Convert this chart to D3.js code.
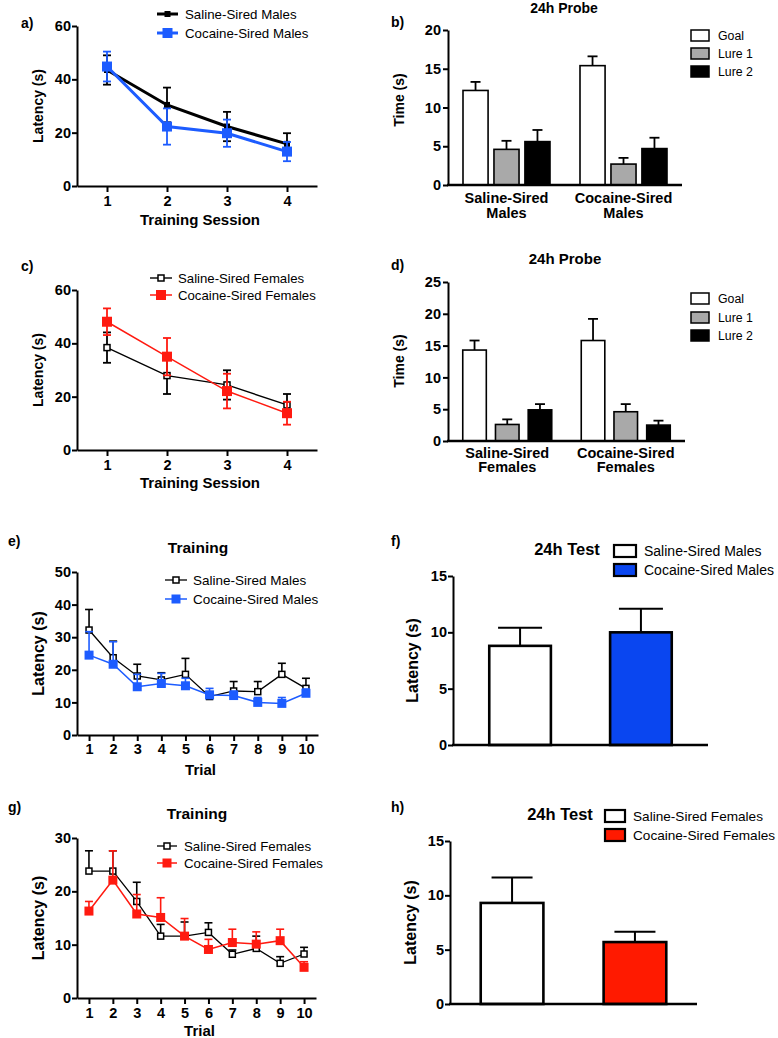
<!DOCTYPE html>
<html><head><meta charset="utf-8">
<script src="https://cdn.jsdelivr.net/npm/d3@7"></script>
<style>body{margin:0;background:#fff}svg{display:block}</style>
</head><body><svg id="c" width="778" height="1038"></svg>
<script>
// ---------- DATA ----------
const sessions = [1, 2, 3, 4];
const trials = [1, 2, 3, 4, 5, 6, 7, 8, 9, 10];

// a) males, training sessions
const aSalineMean = [43.5, 30.4, 22.3, 15.8];
const aSalineSem = [5.5, 6.5, 5.5, 4.0];
const aCocaineMean = [44.8, 22.3, 19.8, 12.9];
const aCocaineSem = [5.6, 6.8, 5.1, 3.6];
const aTicks = [0, 20, 40, 60];

// c) females, training sessions
const cSalineMean = [38.4, 27.9, 24.4, 16.9];
const cSalineSem = [5.7, 6.9, 5.5, 4.1];
const cCocaineMean = [48.1, 35.0, 22.1, 13.8];
const cCocaineSem = [5.0, 7.0, 6.5, 4.3];

// b) / d) 24h probe
const probeArms = ["Goal", "Lure 1", "Lure 2"];
const bGroups = [["Saline-Sired", "Males"], ["Cocaine-Sired", "Males"]];
const bSalineMean = [12.2, 4.6, 5.6];
const bSalineSem = [1.1, 1.1, 1.5];
const bCocaineMean = [15.4, 2.7, 4.7];
const bCocaineSem = [1.2, 0.8, 1.4];
const bTicks = [0, 5, 10, 15, 20];

const dGroups = [["Saline-Sired", "Females"], ["Cocaine-Sired", "Females"]];
const dSalineMean = [14.3, 2.6, 4.9];
const dSalineSem = [1.5, 0.8, 0.9];
const dCocaineMean = [15.8, 4.6, 2.5];
const dCocaineSem = [3.4, 1.2, 0.7];
const dTicks = [0, 5, 10, 15, 20, 25];

// e) males, trials
const eSalineMean = [32.2, 23.7, 18.1, 16.9, 18.6, 11.8, 13.5, 13.3, 18.6, 14.3];
const eSalineSem = [6.3, 5.1, 3.6, 2.2, 4.9, 1.5, 2.9, 3.1, 3.4, 3.1];
const eCocaineMean = [24.5, 21.7, 14.8, 15.8, 15.1, 12.3, 12.1, 10.0, 9.7, 12.8];
const eCocaineSem = [7.2, 6.9, 3.8, 3.1, 2.3, 2.0, 1.4, 1.5, 1.8, 1.3];
const eTicks = [0, 10, 20, 30, 40, 50];

// g) females, trials
const gSalineMean = [23.8, 23.8, 18.1, 11.6, 11.6, 12.3, 8.2, 9.3, 6.5, 8.25];
const gSalineSem = [3.8, 3.8, 3.6, 2.2, 2.65, 1.8, 0.8, 2.3, 1.25, 1.25];
const gCocaineMean = [16.3, 22.1, 15.75, 15.1, 11.6, 9.1, 10.4, 10.1, 10.75, 5.75];
const gCocaineSem = [1.8, 5.5, 3.65, 3.7, 3.3, 1.9, 2.5, 2.3, 2.15, 1.05];
const gTicks = [0, 10, 20, 30];

// f) / h) 24h test
const fGroups = ["Saline-Sired Males", "Cocaine-Sired Males"];
const fMean = [8.8, 10.0];
const fSem = [1.6, 2.1];
const hGroups = ["Saline-Sired Females", "Cocaine-Sired Females"];
const hMean = [9.3, 5.7];
const hSem = [2.35, 0.95];
const testTicks = [0, 5, 10, 15];

// ---------- DRAWING ----------
const FONT = '"Liberation Sans", Arial, Helvetica, sans-serif';
const BLUE = "#1d5cff", RED = "#ff1a10", GREY = "#a9a9a9";
const svg = d3.select("#c");
const intFmt = d3.format("d");

function txt(g, x, y, s, o = {}) {
  return g.append("text").attr("x", x).attr("y", y).text(s)
    .style("font-family", FONT).style("font-size", (o.fs || 14) + "px")
    .style("font-weight", o.bold ? "bold" : "normal")
    .attr("text-anchor", o.anchor || "start").attr("fill", "#000");
}
function styleAxis(g, fs) {
  g.selectAll("path.domain").attr("stroke", "#000").attr("stroke-width", 2);
  g.selectAll(".tick line").attr("stroke", "#000").attr("stroke-width", 2);
  g.selectAll(".tick text").attr("fill", "#000").style("font-family", FONT)
    .style("font-weight", "bold").style("font-size", fs + "px");
}
function yLabel(g, cx, cy, s, fs) {
  g.append("text").attr("transform", `translate(${cx},${cy}) rotate(-90)`)
    .attr("dy", "0.35em").attr("text-anchor", "middle").text(s)
    .style("font-family", FONT).style("font-weight", "bold").style("font-size", fs + "px");
}
function marker(g, cx, cy, s) {
  g.append("rect").attr("x", cx - s.size / 2).attr("y", cy - s.size / 2)
    .attr("width", s.size).attr("height", s.size)
    .attr("fill", s.open ? "#fff" : s.color).attr("stroke", s.color)
    .attr("stroke-width", s.open ? 1.5 : 0);
}

function lineChart(o) {
  const g = svg.append("g");
  const x = d3.scaleLinear().domain(o.xDomain).range([o.x0, o.x1]);
  const y = d3.scaleLinear().domain([0, o.yMax]).range([o.yBot, o.yTop]);
  const ya = g.append("g").attr("transform", `translate(${o.x0},0)`)
    .call(d3.axisLeft(y).tickValues(o.yTicks).tickFormat(intFmt).tickSize(5).tickPadding(1).tickSizeOuter(0));
  styleAxis(ya, o.tickFs);
  const xa = g.append("g").attr("transform", `translate(0,${o.yBot})`)
    .call(d3.axisBottom(x).tickValues(o.xTicks).tickFormat(intFmt).tickSize(6).tickPadding(o.xPad).tickSizeOuter(0));
  styleAxis(xa, o.tickFs);

  o.series.forEach(s => {
    const pts = o.xTicks.map((t, i) => ({ t, m: s.mean[i], e: s.sem[i] }));
    const eg = g.append("g").attr("stroke", s.color).attr("stroke-width", s.ew);
    pts.forEach(p => {
      const lo = s.both ? p.m - p.e : p.m;
      eg.append("line").attr("x1", x(p.t)).attr("x2", x(p.t)).attr("y1", y(lo)).attr("y2", y(p.m + p.e));
      eg.append("line").attr("x1", x(p.t) - o.cap / 2).attr("x2", x(p.t) + o.cap / 2)
        .attr("y1", y(p.m + p.e)).attr("y2", y(p.m + p.e));
      if (s.both) eg.append("line").attr("x1", x(p.t) - o.cap / 2).attr("x2", x(p.t) + o.cap / 2)
        .attr("y1", y(p.m - p.e)).attr("y2", y(p.m - p.e));
    });
    g.append("path").datum(pts).attr("fill", "none").attr("stroke", s.color).attr("stroke-width", s.lw)
      .attr("d", d3.line().x(p => x(p.t)).y(p => y(p.m)));
    pts.forEach(p => marker(g, x(p.t), y(p.m), s));
  });

  // legend
  o.series.forEach((s, i) => {
    const ly = o.leg.ys[i];
    g.append("line").attr("x1", o.leg.l1).attr("x2", o.leg.l2).attr("y1", ly).attr("y2", ly)
      .attr("stroke", s.color).attr("stroke-width", s.lw);
    marker(g, (o.leg.l1 + o.leg.l2) / 2, ly, s);
    txt(g, o.leg.tx, ly + o.leg.fs * 0.35, s.name, { fs: o.leg.fs });
  });

  yLabel(g, o.ylx, (o.yTop + o.yBot) / 2, "Latency (s)", o.ylFs);
  txt(g, (o.x0 + o.x1) / 2 + 3, o.xlY, o.xlabel, { fs: 15, bold: true, anchor: "middle" });
  if (o.title) txt(g, o.titleX, o.titleY, o.title, { fs: 15.5, bold: true, anchor: "middle" });
  txt(g, o.labX, o.labY, o.lab, { fs: 14, bold: true });
}

function probeChart(o) {
  const g = svg.append("g");
  const y = d3.scaleLinear().domain([0, o.yMax]).range([o.yBot, o.yTop]);
  const gx = d3.scalePoint().domain(d3.range(o.groups.length)).range([o.x0, o.x1]).padding(0.5);
  const bx = d3.scaleBand().domain(probeArms).range([-o.innerW / 2, o.innerW / 2]).paddingInner(o.padIn);
  const fills = ["#fff", GREY, "#000"];
  o.means.forEach((ms, gi) => {
    ms.forEach((m, ai) => {
      const a = probeArms[ai];
      const bx0 = gx(gi) + bx(a), cx = bx0 + bx.bandwidth() / 2;
      const top = y(m + o.sems[gi][ai]);
      g.append("line").attr("x1", cx).attr("x2", cx).attr("y1", y(m)).attr("y2", top)
        .attr("stroke", "#000").attr("stroke-width", 1.8);
      g.append("line").attr("x1", cx - 5).attr("x2", cx + 5).attr("y1", top).attr("y2", top)
        .attr("stroke", "#000").attr("stroke-width", 1.8);
      g.append("rect").attr("x", bx0).attr("y", y(m)).attr("width", bx.bandwidth())
        .attr("height", y(0) - y(m)).attr("fill", fills[ai]).attr("stroke", "#000").attr("stroke-width", 1.6);
    });
    o.groups[gi].forEach((line, li) =>
      txt(g, gx(gi), o.glY[li], line, { fs: 14.5, bold: true, anchor: "middle" }));
  });
  const ya = g.append("g").attr("transform", `translate(${o.x0},0)`)
    .call(d3.axisLeft(y).tickValues(o.ticks).tickSize(5).tickPadding(2).tickSizeOuter(0));
  styleAxis(ya, 14.5);
  g.append("line").attr("x1", o.x0 - 1).attr("x2", o.x1).attr("y1", o.yBot).attr("y2", o.yBot)
    .attr("stroke", "#000").attr("stroke-width", 2.5);
  probeArms.forEach((a, i) => {
    g.append("rect").attr("x", 691).attr("y", o.legY[i]).attr("width", 18).attr("height", 11)
      .attr("fill", fills[i]).attr("stroke", "#000").attr("stroke-width", 1.5);
    txt(g, 718, o.legY[i] + 10, a, { fs: 12.3 });
  });
  txt(g, o.titleX, o.titleY, "24h Probe", { fs: o.titleFs, bold: true, anchor: "middle" });
  yLabel(g, 399, o.ylCy, "Time (s)", 14);
  txt(g, 391, o.labY, o.lab, { fs: 14, bold: true });
}

function testChart(o) {
  const g = svg.append("g");
  const y = d3.scaleLinear().domain([0, 15]).range([o.yBot, o.yTop]);
  const x = d3.scaleBand().domain(o.groups).range([o.x0, o.x1]).paddingInner(o.padIn).paddingOuter(o.padOut);
  const fills = ["#fff", o.color];
  o.groups.forEach((grp, i) => {
    const cx = x(grp) + x.bandwidth() / 2, top = y(o.mean[i] + o.sem[i]);
    g.append("line").attr("x1", cx).attr("x2", cx).attr("y1", y(o.mean[i])).attr("y2", top)
      .attr("stroke", "#000").attr("stroke-width", 2);
    g.append("line").attr("x1", cx - o.cap / 2).attr("x2", cx + o.cap / 2).attr("y1", top).attr("y2", top)
      .attr("stroke", "#000").attr("stroke-width", 2);
    g.append("rect").attr("x", x(grp)).attr("y", y(o.mean[i])).attr("width", x.bandwidth())
      .attr("height", y(0) - y(o.mean[i])).attr("fill", fills[i]).attr("stroke", "#000").attr("stroke-width", 2.6);
    g.append("rect").attr("x", o.legX).attr("y", o.legY[i]).attr("width", o.boxW).attr("height", 12)
      .attr("fill", fills[i]).attr("stroke", "#000").attr("stroke-width", 2.2);
    txt(g, o.legTx, o.legY[i] + 10.5, grp, { fs: o.legFs });
  });
  const ya = g.append("g").attr("transform", `translate(${o.x0},0)`)
    .call(d3.axisLeft(y).tickValues(testTicks).tickSize(5).tickPadding(1).tickSizeOuter(0));
  styleAxis(ya, 14.5);
  g.append("line").attr("x1", o.x0 - 1).attr("x2", o.x1).attr("y1", o.yBot).attr("y2", o.yBot)
    .attr("stroke", "#000").attr("stroke-width", 2.5);
  txt(g, o.titleX, o.titleY, "24h Test", { fs: 16.5, bold: true, anchor: "middle" });
  yLabel(g, o.ylx, (o.yTop + o.yBot) / 2, "Latency (s)", 16);
  txt(g, 391, o.labY, o.lab, { fs: 14, bold: true });
}

// a)
lineChart({
  x0: 77, x1: 317, yTop: 26, yBot: 186, xDomain: [0.5, 4.5], yMax: 60, yTicks: aTicks, xTicks: sessions,
  tickFs: 14.5, xPad: 4, cap: 8,
  series: [
    { name: "Saline-Sired Males", mean: aSalineMean, sem: aSalineSem, color: "#000", size: 6, lw: 3, ew: 1.8, both: true },
    { name: "Cocaine-Sired Males", mean: aCocaineMean, sem: aCocaineSem, color: BLUE, size: 10, lw: 3, ew: 1.8, both: true }
  ],
  leg: { l1: 157, l2: 178, tx: 185, ys: [14, 33], fs: 13.3 },
  ylx: 38, ylFs: 14, xlabel: "Training Session", xlY: 225, lab: "a)", labX: 21, labY: 28
});
// c)
lineChart({
  x0: 77, x1: 317, yTop: 290, yBot: 450, xDomain: [0.5, 4.5], yMax: 60, yTicks: aTicks, xTicks: sessions,
  tickFs: 14.5, xPad: 4, cap: 8,
  series: [
    { name: "Saline-Sired Females", mean: cSalineMean, sem: cSalineSem, color: "#000", size: 6, lw: 1.4, ew: 1.8, both: true, open: true },
    { name: "Cocaine-Sired Females", mean: cCocaineMean, sem: cCocaineSem, color: RED, size: 10, lw: 1.5, ew: 1.8, both: true }
  ],
  leg: { l1: 150, l2: 172, tx: 178, ys: [278, 295], fs: 13.2 },
  ylx: 38, ylFs: 14, xlabel: "Training Session", xlY: 488, lab: "c)", labX: 21, labY: 271
});
// e)
lineChart({
  x0: 77, x1: 318, yTop: 572, yBot: 735, xDomain: [0.5, 10.5], yMax: 50, yTicks: eTicks, xTicks: trials,
  tickFs: 14.5, xPad: 3, cap: 8,
  series: [
    { name: "Saline-Sired Males", mean: eSalineMean, sem: eSalineSem, color: "#000", size: 6, lw: 1.3, ew: 1.6, both: false, open: true },
    { name: "Cocaine-Sired Males", mean: eCocaineMean, sem: eCocaineSem, color: BLUE, size: 9, lw: 1.5, ew: 1.6, both: false }
  ],
  leg: { l1: 165, l2: 187, tx: 193, ys: [580, 599], fs: 13.5 },
  ylx: 38, ylFs: 16, xlabel: "Trial", xlY: 775, title: "Training", titleX: 198, titleY: 553,
  lab: "e)", labX: 8, labY: 546
});
// g)
lineChart({
  x0: 77, x1: 316, yTop: 838, yBot: 998, xDomain: [0.5, 10.5], yMax: 30, yTicks: gTicks, xTicks: trials,
  tickFs: 14.5, xPad: 4, cap: 8,
  series: [
    { name: "Saline-Sired Females", mean: gSalineMean, sem: gSalineSem, color: "#000", size: 6, lw: 1.3, ew: 1.6, both: false, open: true },
    { name: "Cocaine-Sired Females", mean: gCocaineMean, sem: gCocaineSem, color: RED, size: 9, lw: 1.5, ew: 1.6, both: false }
  ],
  leg: { l1: 157, l2: 177, tx: 184, ys: [846, 863], fs: 13.3 },
  ylx: 38, ylFs: 16, xlabel: "Trial", xlY: 1036, title: "Training", titleX: 197, titleY: 819,
  lab: "g)", labX: 8, labY: 812
});
// b)
probeChart({
  x0: 448, x1: 682, yTop: 30, yBot: 185, yMax: 20, ticks: bTicks, groups: bGroups,
  means: [bSalineMean, bCocaineMean], sems: [bSalineSem, bCocaineSem], innerW: 87, padIn: 0.19,
  glY: [203, 218], legY: [30, 48, 66], titleX: 564, titleY: 13, titleFs: 14, ylCy: 100, lab: "b)", labY: 27
});
// d)
probeChart({
  x0: 448, x1: 685, yTop: 282, yBot: 441, yMax: 25, ticks: dTicks, groups: dGroups,
  means: [dSalineMean, dCocaineMean], sems: [dSalineSem, dCocaineSem], innerW: 89, padIn: 0.28,
  glY: [458, 472], legY: [293, 312, 330], titleX: 565, titleY: 264, titleFs: 15, ylCy: 361, lab: "d)", labY: 270
});
// f)
testChart({
  x0: 453, x1: 708, yTop: 576, yBot: 745, groups: fGroups, mean: fMean, sem: fSem, color: "#0a46f0",
  padIn: 0.49, padOut: 0.3, cap: 44, legX: 614, legY: [545, 564], boxW: 22, legTx: 644, legFs: 14,
  titleX: 567, titleY: 555, ylx: 412, lab: "f)", labY: 546
});
// h)
testChart({
  x0: 450, x1: 697, yTop: 841, yBot: 1004, groups: hGroups, mean: hMean, sem: hSem, color: "#ff1a00",
  padIn: 0.49, padOut: 0.25, cap: 41, legX: 605, legY: [810, 829], boxW: 20, legTx: 633, legFs: 13.6,
  titleX: 560, titleY: 820, ylx: 410, lab: "h)", labY: 812
});
</script></body></html>
